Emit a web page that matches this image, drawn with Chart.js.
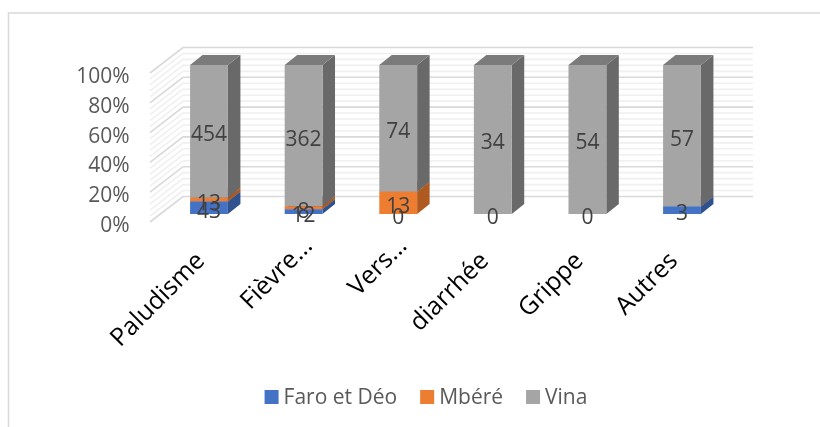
<!DOCTYPE html>
<html>
<head>
<meta charset="utf-8">
<style>html,body{margin:0;padding:0;background:#fff}canvas{display:block}</style>
<script src="https://cdn.jsdelivr.net/npm/chart.js@4"></script>
</head>
<body>
<canvas id="c" width="820" height="427"></canvas>
<script>
const categories = ['Paludisme', 'Fièvre...', 'Vers...', 'diarrhée', 'Grippe', 'Autres'];
const faroEtDeo = [43, 12, 0, 0, 0, 3];
const mbere = [13, 8, 13, null, null, null];
const vina = [454, 362, 74, 34, 54, 57];
const yTicks = [0, 20, 40, 60, 80, 100];

const FONT = '"Open Sans", sans-serif';
const totals = categories.map((_, i) => (faroEtDeo[i] || 0) + (mbere[i] || 0) + (vina[i] || 0));
const pct = arr => arr.map((v, i) => v === null ? null : v / totals[i] * 100);

const series = [
  { name: 'Faro et Déo', raw: faroEtDeo, color: '#4472C4', side: '#2F528F', top: '#35588F' },
  { name: 'Mbéré', raw: mbere, color: '#ED7D31', side: '#AE5A21', top: '#BE6427' },
  { name: 'Vina', raw: vina, color: '#A5A5A5', side: '#696969', top: '#7B7B7B' }
];

const DEPTH_X = 12.5, DEPTH_Y = 10;

const walls = {
  id: 'walls',
  beforeDraw(chart) {
    const { ctx, width, height } = chart;
    ctx.save();
    ctx.fillStyle = '#fff';
    ctx.fillRect(0, 0, width, height);
    ctx.strokeStyle = '#D9D9D9';
    ctx.lineWidth = 1.5;
    ctx.beginPath();
    ctx.moveTo(width, 13);
    ctx.lineTo(8.5, 13);
    ctx.lineTo(8.5, height);
    ctx.stroke();
    ctx.restore();
  },
  beforeDatasetsDraw(chart) {
    const { ctx, scales: { y } } = chart;
    const frontX = 150, backX = 183, backRight = 753, frontDy = 8, backDy = -17.5;
    ctx.save();
    const line = (v, color, w) => {
      const p = y.getPixelForValue(v);
      ctx.strokeStyle = color;
      ctx.lineWidth = w;
      ctx.beginPath();
      ctx.moveTo(frontX, p + frontDy);
      ctx.lineTo(backX, p + backDy);
      ctx.lineTo(backRight, p + backDy);
      ctx.stroke();
    };
    for (let v = 0; v < 100; v += 4) {
      if (v % 20 !== 0) line(v, '#F0F0F0', 1.6);
    }
    yTicks.forEach(v => line(v, '#D9D9D9', 1.6));

    series.forEach((s, di) => {
      chart.getDatasetMeta(di).data.forEach((bar, i) => {
        if (!s.raw[i]) return;
        const left = bar.x - bar.width / 2, right = bar.x + bar.width / 2;
        const t = Math.min(bar.y, bar.base), b = Math.max(bar.y, bar.base);
        ctx.fillStyle = s.side;
        ctx.beginPath();
        ctx.moveTo(right, t);
        ctx.lineTo(right + DEPTH_X, t - DEPTH_Y);
        ctx.lineTo(right + DEPTH_X, b - DEPTH_Y);
        ctx.lineTo(right, b);
        ctx.closePath();
        ctx.fill();
        ctx.fillStyle = s.top;
        ctx.beginPath();
        ctx.moveTo(left, t);
        ctx.lineTo(left + DEPTH_X, t - DEPTH_Y);
        ctx.lineTo(right + DEPTH_X, t - DEPTH_Y);
        ctx.lineTo(right, t);
        ctx.closePath();
        ctx.fill();
      });
    });
    ctx.restore();
  },
  afterDatasetsDraw(chart) {
    const { ctx, scales: { x: xs } } = chart;
    ctx.save();
    ctx.font = '21px ' + FONT;
    ctx.fillStyle = '#404040';
    ctx.textAlign = 'center';
    ctx.textBaseline = 'middle';
    series.forEach((s, di) => {
      chart.getDatasetMeta(di).data.forEach((bar, i) => {
        if (s.raw[i] === null) return;
        ctx.fillText(String(s.raw[i]), bar.x, (bar.y + bar.base) / 2 + 4);
      });
    });

    // rotated category labels (truncated ones sit further along the slant)
    ctx.font = '25px ' + FONT;
    ctx.fillStyle = '#000';
    ctx.textAlign = 'right';
    categories.forEach((label, i) => {
      const truncated = label.endsWith('...');
      ctx.save();
      ctx.translate(xs.getPixelForTick(i) + (truncated ? 5 : -8), truncated ? 242 : 257);
      ctx.rotate(-Math.PI / 4);
      ctx.fillText(label, 0, 0);
      ctx.restore();
    });

    // legend
    ctx.font = '21px ' + FONT;
    ctx.textAlign = 'left';
    const box = 14, gap = 5, itemGap = 23, legendY = 397;
    const widths = series.map(s => ctx.measureText(s.name).width);
    const total = widths.reduce((a, w) => a + box + gap + w, 0) + itemGap * (series.length - 1);
    let x = 426 - total / 2;
    series.forEach((s, i) => {
      ctx.fillStyle = s.color;
      ctx.fillRect(x, legendY - box / 2, box, box);
      ctx.fillStyle = '#595959';
      ctx.fillText(s.name, x + box + gap, legendY + 1.5);
      x += box + gap + widths[i] + itemGap;
    });
    ctx.restore();
  }
};

new Chart(document.getElementById('c'), {
  type: 'bar',
  data: {
    labels: categories,
    datasets: series.map(s => ({
      label: s.name,
      data: pct(s.raw),
      backgroundColor: s.color,
      borderWidth: 0,
      barPercentage: 0.4,
      categoryPercentage: 1,
      stack: 's'
    }))
  },
  options: {
    responsive: false,
    animation: false,
    layout: { padding: { top: 65, right: 90.7, bottom: 0, left: 0 } },
    plugins: { legend: { display: false }, tooltip: { enabled: false }, title: { display: false } },
    scales: {
      x: {
        stacked: true,
        grid: { display: false },
        border: { display: false },
        ticks: { display: false, autoSkip: false },
        afterFit(s) { s.height = 213; }
      },
      y: {
        stacked: true,
        min: 0,
        max: 100,
        grid: { display: false },
        border: { display: false },
        afterBuildTicks(s) { s.ticks = yTicks.map(v => ({ value: v })); },
        ticks: {
          padding: 24,
          labelOffset: 12,
          color: '#595959',
          font: { family: FONT, size: 21 },
          callback: v => v + '%'
        },
        afterFit(s) { s.width = 161.7; }
      }
    }
  },
  plugins: [walls]
});
</script>
</body>
</html>
